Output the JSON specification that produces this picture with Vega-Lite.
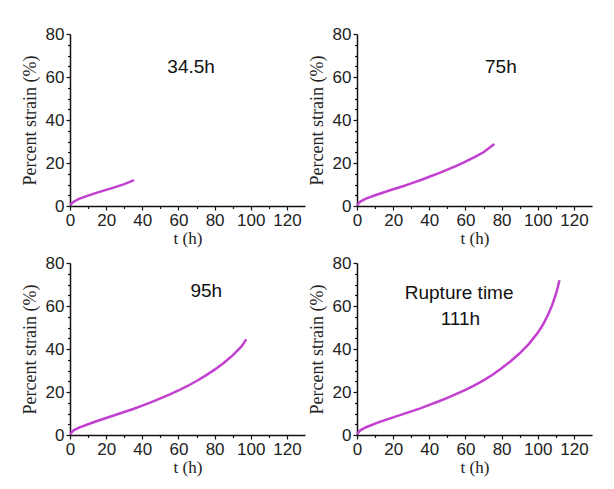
{
  "$schema": "https://vega.github.io/schema/vega-lite/v6.json",
  "padding": {"left": 21, "top": 25, "right": 5, "bottom": 5},
  "background": "white",
  "data": {
    "values": [
      {"kind": "curve", "panel": "a", "t": 0, "strain": 0.5}, {"kind": "curve", "panel": "a", "t": 2, "strain": 2.0}, {"kind": "curve", "panel": "a", "t": 5, "strain": 3.3}, {"kind": "curve", "panel": "a", "t": 10, "strain": 4.8}, {"kind": "curve", "panel": "a", "t": 15, "strain": 6.2}, {"kind": "curve", "panel": "a", "t": 20, "strain": 7.5}, {"kind": "curve", "panel": "a", "t": 25, "strain": 8.8}, {"kind": "curve", "panel": "a", "t": 30, "strain": 10.2}, {"kind": "curve", "panel": "a", "t": 35.5, "strain": 12.0},
      {"kind": "curve", "panel": "b", "t": 0, "strain": 0.5}, {"kind": "curve", "panel": "b", "t": 2, "strain": 2.2}, {"kind": "curve", "panel": "b", "t": 5, "strain": 3.4}, {"kind": "curve", "panel": "b", "t": 10, "strain": 5.0}, {"kind": "curve", "panel": "b", "t": 15, "strain": 6.4}, {"kind": "curve", "panel": "b", "t": 20, "strain": 7.8}, {"kind": "curve", "panel": "b", "t": 25, "strain": 9.1}, {"kind": "curve", "panel": "b", "t": 30, "strain": 10.5}, {"kind": "curve", "panel": "b", "t": 35, "strain": 12.0}, {"kind": "curve", "panel": "b", "t": 40, "strain": 13.6}, {"kind": "curve", "panel": "b", "t": 45, "strain": 15.2}, {"kind": "curve", "panel": "b", "t": 50, "strain": 16.9}, {"kind": "curve", "panel": "b", "t": 55, "strain": 18.7}, {"kind": "curve", "panel": "b", "t": 60, "strain": 20.6}, {"kind": "curve", "panel": "b", "t": 65, "strain": 22.7}, {"kind": "curve", "panel": "b", "t": 70, "strain": 25.0}, {"kind": "curve", "panel": "b", "t": 76, "strain": 28.8},
      {"kind": "curve", "panel": "c", "t": 0, "strain": 0.5}, {"kind": "curve", "panel": "c", "t": 2, "strain": 2.2}, {"kind": "curve", "panel": "c", "t": 5, "strain": 3.4}, {"kind": "curve", "panel": "c", "t": 10, "strain": 5.0}, {"kind": "curve", "panel": "c", "t": 15, "strain": 6.5}, {"kind": "curve", "panel": "c", "t": 20, "strain": 7.9}, {"kind": "curve", "panel": "c", "t": 25, "strain": 9.3}, {"kind": "curve", "panel": "c", "t": 30, "strain": 10.7}, {"kind": "curve", "panel": "c", "t": 35, "strain": 12.1}, {"kind": "curve", "panel": "c", "t": 40, "strain": 13.7}, {"kind": "curve", "panel": "c", "t": 45, "strain": 15.3}, {"kind": "curve", "panel": "c", "t": 50, "strain": 17.0}, {"kind": "curve", "panel": "c", "t": 55, "strain": 18.8}, {"kind": "curve", "panel": "c", "t": 60, "strain": 20.7}, {"kind": "curve", "panel": "c", "t": 65, "strain": 22.8}, {"kind": "curve", "panel": "c", "t": 70, "strain": 25.1}, {"kind": "curve", "panel": "c", "t": 75, "strain": 27.6}, {"kind": "curve", "panel": "c", "t": 80, "strain": 30.4}, {"kind": "curve", "panel": "c", "t": 85, "strain": 33.5}, {"kind": "curve", "panel": "c", "t": 90, "strain": 37.0}, {"kind": "curve", "panel": "c", "t": 95, "strain": 41.3}, {"kind": "curve", "panel": "c", "t": 97.5, "strain": 44.5},
      {"kind": "curve", "panel": "d", "t": 0, "strain": 0.5}, {"kind": "curve", "panel": "d", "t": 2, "strain": 2.3}, {"kind": "curve", "panel": "d", "t": 5, "strain": 3.6}, {"kind": "curve", "panel": "d", "t": 10, "strain": 5.3}, {"kind": "curve", "panel": "d", "t": 15, "strain": 6.8}, {"kind": "curve", "panel": "d", "t": 20, "strain": 8.2}, {"kind": "curve", "panel": "d", "t": 25, "strain": 9.6}, {"kind": "curve", "panel": "d", "t": 30, "strain": 11.0}, {"kind": "curve", "panel": "d", "t": 35, "strain": 12.4}, {"kind": "curve", "panel": "d", "t": 40, "strain": 14.0}, {"kind": "curve", "panel": "d", "t": 45, "strain": 15.6}, {"kind": "curve", "panel": "d", "t": 50, "strain": 17.3}, {"kind": "curve", "panel": "d", "t": 55, "strain": 19.1}, {"kind": "curve", "panel": "d", "t": 60, "strain": 21.0}, {"kind": "curve", "panel": "d", "t": 65, "strain": 23.1}, {"kind": "curve", "panel": "d", "t": 70, "strain": 25.4}, {"kind": "curve", "panel": "d", "t": 75, "strain": 28.0}, {"kind": "curve", "panel": "d", "t": 80, "strain": 31.0}, {"kind": "curve", "panel": "d", "t": 85, "strain": 34.3}, {"kind": "curve", "panel": "d", "t": 90, "strain": 38.0}, {"kind": "curve", "panel": "d", "t": 95, "strain": 42.3}, {"kind": "curve", "panel": "d", "t": 100, "strain": 47.5}, {"kind": "curve", "panel": "d", "t": 103, "strain": 51.5}, {"kind": "curve", "panel": "d", "t": 106, "strain": 56.5}, {"kind": "curve", "panel": "d", "t": 108, "strain": 60.5}, {"kind": "curve", "panel": "d", "t": 110, "strain": 65.5}, {"kind": "curve", "panel": "d", "t": 111, "strain": 68.5}, {"kind": "curve", "panel": "d", "t": 112, "strain": 72.0},
      {"kind": "label", "panel": "a", "t": 67, "strain": 64.7, "text": "34.5h"},
      {"kind": "label", "panel": "b", "t": 79.6, "strain": 64.7, "text": "75h"},
      {"kind": "label", "panel": "c", "t": 75.4, "strain": 67, "text": "95h"},
      {"kind": "label", "panel": "d", "t": 56.5, "strain": 66, "text": "Rupture time"},
      {"kind": "label", "panel": "d", "t": 57.2, "strain": 54, "text": "111h"}
    ]
  },
  "facet": {"field": "panel", "type": "nominal", "header": {"labels": false, "title": null, "labelExpr": "''", "labelFontSize": 0, "labelPadding": 0}, "title": null, "sort": ["a", "b", "c", "d"]},
  "columns": 2,
  "bounds": "flush",
  "spacing": {"column": 52, "row": 57},
  "resolve": {"axis": {"x": "independent", "y": "independent"}},
  "spec": {
    "width": 235,
    "height": 172,
    "layer": [
      {
        "transform": [{"filter": "datum.kind === 'curve'"}],
        "mark": {"type": "line", "color": "#c23fcf", "strokeWidth": 2.5},
        "encoding": {
          "x": {
            "field": "t", "type": "quantitative",
            "scale": {"domain": [0, 130], "nice": false, "zero": true},
            "axis": {
              "title": "t (h)",
              "orient": "bottom",
              "values": [0, 20, 40, 60, 80, 100, 120],
              "labelOverlap": false,
              "tickSize": 4,
              "titlePadding": 2
            }
          },
          "y": {
            "field": "strain", "type": "quantitative",
            "scale": {"domain": [0, 80], "nice": false},
            "axis": {
              "title": "Percent strain (%)",
              "orient": "left",
              "values": [0, 20, 40, 60, 80],
              "labelOverlap": false,
              "tickSize": 4,
              "titlePadding": 6
            }
          }
        }
      },
      {
        "transform": [{"filter": "datum.kind === 'curve'"}],
        "mark": {"type": "line", "opacity": 0},
        "encoding": {
          "x": {
            "field": "t", "type": "quantitative",
            "axis": {
              "orient": "bottom",
              "title": null,
              "labels": false,
              "domain": false,
              "values": [10, 30, 50, 70, 90, 110],
              "tickSize": 2.5
            }
          },
          "y": {
            "field": "strain", "type": "quantitative",
            "axis": {
              "orient": "left",
              "title": null,
              "labels": false,
              "domain": false,
              "values": [5, 10, 15, 25, 30, 35, 45, 50, 55, 65, 70, 75],
              "tickSize": 2.5
            }
          }
        }
      },
      {
        "transform": [{"filter": "datum.kind === 'label'"}],
        "mark": {"type": "text", "font": "Liberation Sans", "fontSize": 19, "color": "#111", "align": "center", "baseline": "middle"},
        "encoding": {
          "x": {"field": "t", "type": "quantitative", "axis": null},
          "y": {"field": "strain", "type": "quantitative", "axis": null},
          "text": {"field": "text", "type": "nominal"}
        }
      }
    ],
    "resolve": {"axis": {"x": "independent", "y": "independent"}}
  },
  "config": {
    "view": {"stroke": null},
    "header": {"labels": false, "title": null},
    "headerFacet": {"labels": false, "title": null},
    "axis": {
      "grid": false,
      "domainColor": "#111",
      "domainWidth": 1.5,
      "tickColor": "#111",
      "tickWidth": 1.2,
      "labelFont": "Liberation Sans",
      "labelFontSize": 17,
      "labelColor": "#222",
      "labelPadding": 2,
      "labelFlush": false,
      "titleFont": "Liberation Serif",
      "titleFontWeight": "normal",
      "titleColor": "#222"
    },
    "axisX": {"titleFontSize": 17},
    "axisY": {"titleFontSize": 18}
  }
}
